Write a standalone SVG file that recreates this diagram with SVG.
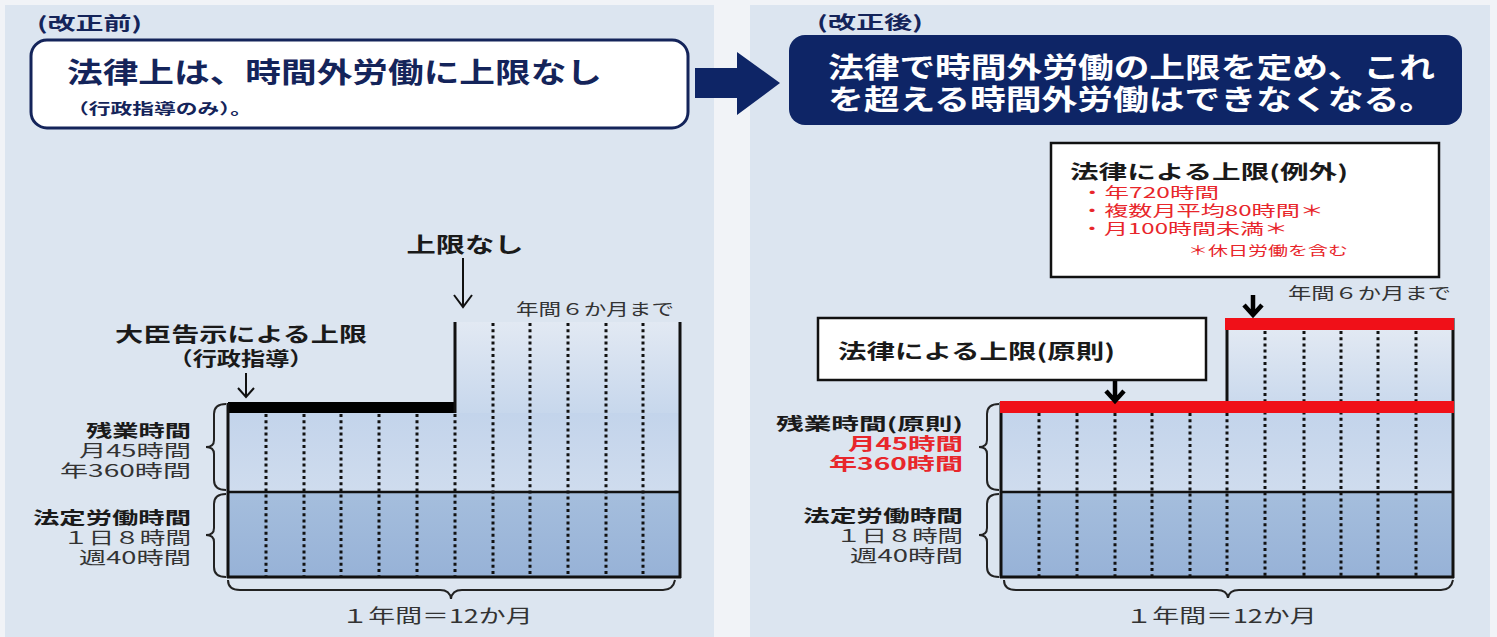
<svg xmlns="http://www.w3.org/2000/svg" width="1497" height="637" viewBox="0 0 1497 637">
<defs>
<style>
.jp{font-family:"Noto Sans CJK JP","Noto Sans",sans-serif}
.b{font-weight:bold}
.ink{fill:#1a1a1a}
.navy{fill:#14245a}
.red{fill:#e8262b}
.gray{fill:#333}
.edge{stroke:#111;stroke-width:3;fill:none}
.dot{stroke:#111;stroke-width:3;stroke-dasharray:3 3.2;fill:none}
.brace{stroke:#222;stroke-width:2;fill:none}
.thin{stroke:#111;stroke-width:2;fill:none}
.thick{stroke:#000;stroke-width:4.5;fill:none}
.rbar{fill:#f01018}
</style>
<linearGradient id="gUp" x1="0" y1="0" x2="0" y2="1"><stop offset="0" stop-color="#e2e9f3"/><stop offset="1" stop-color="#c7d7ec"/></linearGradient>
<linearGradient id="gOt" x1="0" y1="0" x2="0" y2="1"><stop offset="0" stop-color="#c3d4eb"/><stop offset="1" stop-color="#cfdcee"/></linearGradient>
<linearGradient id="gLg" x1="0" y1="0" x2="0" y2="1"><stop offset="0" stop-color="#a5bedd"/><stop offset="1" stop-color="#97b2d7"/></linearGradient>
</defs>
<rect x="0" y="0" width="1497" height="637" fill="#f1f3f7"/>
<g id="panel-before">
<rect x="5" y="5" width="709" height="632" fill="#dce5f0"/>
<text class="jp b navy" x="37" y="30" font-size="18" textLength="105" lengthAdjust="spacingAndGlyphs">(改正前)</text>
</g>
<g id="panel-after">
<rect x="750" y="5" width="740" height="632" fill="#dce5f0"/>
<text class="jp b navy" x="817" y="29" font-size="18" textLength="106" lengthAdjust="spacingAndGlyphs">(改正後)</text>
</g>
<g id="box-before">
<rect x="31" y="40" width="657" height="88" rx="16" fill="#fff" stroke="#14245a" stroke-width="3"/>
<text class="jp b navy" x="67" y="83" font-size="28" textLength="535" lengthAdjust="spacingAndGlyphs">法律上は、時間外労働に上限なし</text>
<text class="jp b navy" x="67" y="114" font-size="15" textLength="185" lengthAdjust="spacingAndGlyphs">（行政指導のみ）。</text>
</g>
<g id="box-after">
<rect x="789" y="35" width="673" height="90" rx="16" fill="#0e2566"/>
<text class="jp b" fill="#fff" x="828" y="78" font-size="28" textLength="607" lengthAdjust="spacingAndGlyphs">法律で時間外労働の上限を定め、これ</text>
<text class="jp b" fill="#fff" x="828" y="110" font-size="28" textLength="607" lengthAdjust="spacingAndGlyphs">を超える時間外労働はできなくなる。</text>
</g>
<g id="transition-arrow">
<polygon points="695,68 737,68 737,52 780,83 737,115 737,98 695,98" fill="#0e2566"/>
</g>
<g id="chart-before">
<rect x="455" y="322" width="225" height="91" fill="url(#gUp)"/>
<rect x="228" y="413" width="452" height="79" fill="url(#gOt)"/>
<rect x="228" y="492" width="452" height="85" fill="url(#gLg)"/>
<g class="dot">
<path d="M266 414V577M304 414V577M341 414V577M379 414V577M417 414V577M455 414V577"/>
<path d="M493 323V577M530 323V577M568 323V577M606 323V577M643 323V577"/>
</g>
<rect x="228" y="402" width="228" height="11" fill="#000"/>
<path class="edge" d="M455 322V413M680 322V578M228 403V578M227 577H681"/>
<path d="M228 492H680" stroke="#111" stroke-width="2.5"/>
</g>
<g id="labels-before">
<text class="jp b ink" x="465" y="252" font-size="21" text-anchor="middle" textLength="117" lengthAdjust="spacingAndGlyphs">上限なし</text>
<text class="jp gray" x="516" y="315" font-size="16" textLength="158" lengthAdjust="spacingAndGlyphs">年間６か月まで</text>
<text class="jp b ink" x="241" y="342" font-size="20" text-anchor="middle" textLength="252" lengthAdjust="spacingAndGlyphs">大臣告示による上限</text>
<text class="jp b ink" x="241" y="366" font-size="19" text-anchor="middle" textLength="145" lengthAdjust="spacingAndGlyphs">（行政指導）</text>
<text class="jp b ink" x="191" y="437" font-size="17" text-anchor="end" textLength="105" lengthAdjust="spacingAndGlyphs">残業時間</text>
<text class="jp gray" x="191" y="457" font-size="17" text-anchor="end" textLength="112" lengthAdjust="spacingAndGlyphs">月45時間</text>
<text class="jp gray" x="191" y="477" font-size="17" text-anchor="end" textLength="131" lengthAdjust="spacingAndGlyphs">年360時間</text>
<text class="jp b ink" x="191" y="524" font-size="17" text-anchor="end" textLength="158" lengthAdjust="spacingAndGlyphs">法定労働時間</text>
<text class="jp gray" x="191" y="544" font-size="17" text-anchor="end" textLength="128" lengthAdjust="spacingAndGlyphs">１日８時間</text>
<text class="jp gray" x="191" y="564" font-size="17" text-anchor="end" textLength="112" lengthAdjust="spacingAndGlyphs">週40時間</text>
<text class="jp gray" x="437" y="623" font-size="19" text-anchor="middle" textLength="191" lengthAdjust="spacingAndGlyphs">１年間＝12か月</text>
</g>
<g id="chart-after">
<rect x="1227" y="329" width="226" height="84" fill="url(#gUp)"/>
<rect x="1001" y="412" width="452" height="80" fill="url(#gOt)"/>
<rect x="1001" y="492" width="452" height="85" fill="url(#gLg)"/>
<g class="dot">
<path d="M1039 413V577M1077 413V577M1115 413V577M1152 413V577M1190 413V577M1227 413V577"/>
<path d="M1265 331V577M1304 331V577M1341 331V577M1378 331V577M1416 331V577"/>
</g>
<path class="edge" d="M1227 318V413M1453 318V578M1001 402V578M1000 577H1454"/>
<path d="M1001 492H1453" stroke="#111" stroke-width="2.5"/>
<rect class="rbar" x="1225" y="318" width="229" height="12"/>
<rect class="rbar" x="1000" y="401" width="454" height="12"/>
</g>
<g id="box-exception">
<rect x="1051" y="143" width="388" height="134" fill="#fff" stroke="#111" stroke-width="2.5"/>
<text class="jp b ink" x="1070" y="179" font-size="19" textLength="278" lengthAdjust="spacingAndGlyphs">法律による上限(例外)</text>
<text class="jp red" x="1080" y="198" font-size="15" textLength="139" lengthAdjust="spacingAndGlyphs">・年720時間</text>
<text class="jp red" x="1080" y="216" font-size="15" textLength="244" lengthAdjust="spacingAndGlyphs">・複数月平均80時間＊</text>
<text class="jp red" x="1080" y="234" font-size="15" textLength="208" lengthAdjust="spacingAndGlyphs">・月100時間未満＊</text>
<text class="jp red" x="1188" y="255" font-size="13" textLength="160" lengthAdjust="spacingAndGlyphs">＊休日労働を含む</text>
</g>
<g id="box-principle">
<rect x="818" y="318" width="388" height="62" fill="#fff" stroke="#111" stroke-width="2.5"/>
<text class="jp b ink" x="838" y="359" font-size="20" textLength="277" lengthAdjust="spacingAndGlyphs">法律による上限(原則)</text>
</g>
<g id="labels-after">
<text class="jp gray" x="1288" y="299" font-size="16" textLength="163" lengthAdjust="spacingAndGlyphs">年間６か月まで</text>
<text class="jp b ink" x="963" y="430" font-size="17" text-anchor="end" textLength="187" lengthAdjust="spacingAndGlyphs">残業時間(原則)</text>
<text class="jp b red" x="963" y="450" font-size="17" text-anchor="end" textLength="115" lengthAdjust="spacingAndGlyphs">月45時間</text>
<text class="jp b red" x="963" y="470" font-size="17" text-anchor="end" textLength="134" lengthAdjust="spacingAndGlyphs">年360時間</text>
<text class="jp b ink" x="963" y="522" font-size="17" text-anchor="end" textLength="160" lengthAdjust="spacingAndGlyphs">法定労働時間</text>
<text class="jp gray" x="963" y="542" font-size="17" text-anchor="end" textLength="127" lengthAdjust="spacingAndGlyphs">１日８時間</text>
<text class="jp gray" x="963" y="562" font-size="17" text-anchor="end" textLength="113" lengthAdjust="spacingAndGlyphs">週40時間</text>
<text class="jp gray" x="1221" y="623" font-size="19" text-anchor="middle" textLength="191" lengthAdjust="spacingAndGlyphs">１年間＝12か月</text>
</g>
<g id="connectors">
<path class="thin" d="M463 258V307M454 295L463 307L472 295"/>
<path class="thin" d="M246 373V397M238 388L246 397L254 388"/>
<path class="thick" d="M1253 295V314M1244 305L1253 315L1262 305"/>
<path class="thick" d="M1115 381V400M1106 391L1115 401L1124 391"/>
<path class="brace" d="M226 404Q214 404 214 414V440Q214 447 206 447Q214 447 214 454V480Q214 490 226 490"/>
<path class="brace" d="M226 494Q214 494 214 504V528Q214 535 206 535Q214 535 214 542V567Q214 577 226 577"/>
<path class="brace" d="M228 580Q228 590 240 590H440Q450 590 451 599Q452 590 462 590H663Q673 590 675 580"/>
<path class="brace" d="M999 404Q987 404 987 414V440Q987 447 979 447Q987 447 987 454V480Q987 490 999 490"/>
<path class="brace" d="M999 494Q987 494 987 504V528Q987 535 979 535Q987 535 987 542V567Q987 577 999 577"/>
<path class="brace" d="M1004 580Q1004 590 1016 590H1217Q1227 590 1228 598Q1229 590 1239 590H1441Q1451 590 1453 580"/>
</g>
</svg>
